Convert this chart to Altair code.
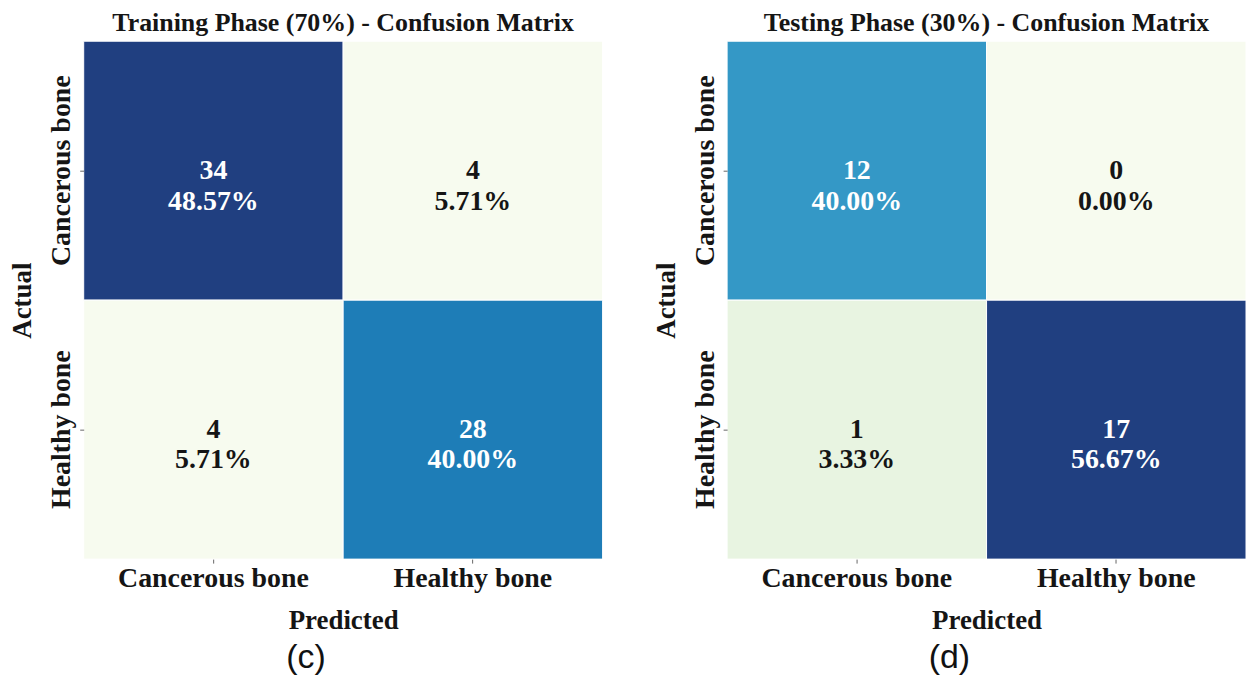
import altair as alt
import pandas as pd

classes = ["Cancerous bone", "Healthy bone"]

train_title = "Training Phase (70%) - Confusion Matrix"
train_counts = [[34, 4], [4, 28]]
train_caption = "(c)"
train_domain = [4, 28, 34]
train_colors = ["#f7fbef", "#1e7db7", "#203f80"]

test_title = "Testing Phase (30%) - Confusion Matrix"
test_counts = [[12, 0], [1, 17]]
test_caption = "(d)"
test_domain = [0, 1, 12, 17]
test_colors = ["#f7fbef", "#e8f4e1", "#3498c6", "#203f80"]

SERIF = "'Liberation Serif', 'Times New Roman', Times, serif"
SANS = "'Liberation Sans', Arial, sans-serif"


def make_df(counts):
    total = sum(sum(r) for r in counts)
    rows = []
    for i, a in enumerate(classes):
        for j, p in enumerate(classes):
            c = counts[i][j]
            rows.append({"actual": a, "predicted": p, "count": c,
                         "label": f"{c}\n{100 * c / total:.2f}%"})
    return pd.DataFrame(rows)


def panel(counts, title, caption, domain, colors):
    df = make_df(counts)
    base = alt.Chart(df)
    x = alt.X("predicted:N", sort=classes, title="Predicted",
              axis=alt.Axis(labelAngle=0, tickSize=4, labelPadding=1,
                            titlePadding=16, domain=False, labelLimit=0))
    y = alt.Y("actual:N", sort=classes, title="Actual",
              axis=alt.Axis(labelAngle=270, labelAlign="center",
                            labelBaseline="alphabetic", tickSize=4,
                            labelPadding=10, titlePadding=11, domain=False,
                            labelLimit=0))
    rect = base.mark_rect(stroke="white", strokeWidth=1).encode(
        x=x, y=y,
        color=alt.Color("count:Q", scale=alt.Scale(domain=domain, range=colors),
                        legend=None),
    )
    text = base.mark_text(font=SERIF, fontSize=28, fontWeight="bold",
                          lineBreak="\n", lineHeight=31,
                          baseline="middle").encode(
        x=x, y=y, text="label:N",
        color=alt.condition(alt.datum["count"] > 10, alt.value("#ffffff"),
                            alt.value("#151515")),
    )
    heat = alt.layer(rect, text).properties(
        width=521, height=520,
        title=alt.TitleParams(title, font=SERIF, fontSize=26, fontWeight="bold",
                              color="#151515", offset=5),
    ).resolve_scale(color="independent")
    return alt.vconcat(heat).properties(
        title=alt.TitleParams(caption, orient="bottom", anchor="middle",
                              font=SANS, fontSize=34,
                              fontWeight="normal", color="#111111", offset=7)
    )


left = panel(train_counts, train_title, train_caption, train_domain, train_colors)
right = panel(test_counts, test_title, test_caption, test_domain, test_colors)

chart = alt.hconcat(left, right, spacing=48).resolve_scale(
    color="independent"
).properties(
    padding={"left": 0, "top": 0, "right": 0, "bottom": 0}
).configure_axis(
    labelFont=SERIF, labelFontSize=28, labelFontWeight="bold", labelColor="#151515",
    titleFont=SERIF, titleFontSize=27, titleFontWeight="bold", titleColor="#151515",
    tickColor="#666666", grid=False,
).configure_view(stroke=None).configure_concat(spacing=0)

chart.save("out.html", embed_options={"renderer": "svg", "actions": False})
